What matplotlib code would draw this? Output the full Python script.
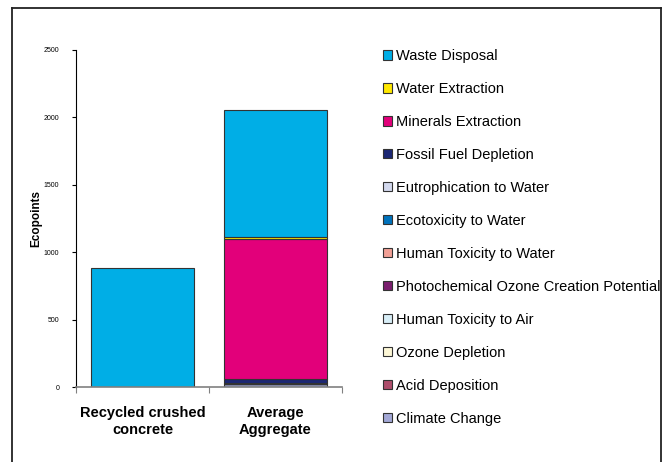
import matplotlib
matplotlib.use("Agg")
import matplotlib.pyplot as plt
from matplotlib.patches import Rectangle, Patch
from matplotlib.lines import Line2D

plt.rcParams['font.family'] = ['Liberation Sans', 'DejaVu Sans']

categories = ["Recycled crushed\nconcrete", "Average\nAggregate"]

# impact categories, stacked from the bottom up
impacts = [
    "Climate Change",
    "Acid Deposition",
    "Ozone Depletion",
    "Human Toxicity to Air",
    "Photochemical Ozone Creation Potential",
    "Human Toxicity to Water",
    "Ecotoxicity to Water",
    "Eutrophication to Water",
    "Fossil Fuel Depletion",
    "Minerals Extraction",
    "Water Extraction",
    "Waste Disposal",
]

recycled = [1, 0, 0, 0, 0, 0, 0, 0, 2, 0, 0, 880]
average = [20, 2, 0, 2, 1, 1, 1, 1, 28, 1045, 10, 945]

colors = [
    "#A3A8D6",  # Climate Change
    "#AE4E6C",  # Acid Deposition
    "#FDF7D6",  # Ozone Depletion
    "#D8EEF7",  # Human Toxicity to Air
    "#7A1E6E",  # Photochemical Ozone Creation Potential
    "#F2A096",  # Human Toxicity to Water
    "#0072BC",  # Ecotoxicity to Water
    "#D3D9EE",  # Eutrophication to Water
    "#1C2774",  # Fossil Fuel Depletion
    "#E2007A",  # Minerals Extraction
    "#FFE800",  # Water Extraction
    "#00AEE6",  # Waste Disposal
]

yticks = [0, 500, 1000, 1500, 2000, 2500]

fig = plt.figure(figsize=(6.72, 4.62), dpi=100)
ax = fig.add_axes([76 / 672, 75 / 462, 266 / 672, 337 / 462])

x = [0, 1]
bottoms = [0, 0]
for name, r, a, c in zip(impacts, recycled, average, colors):
    vals = [r, a]
    ax.bar(x, vals, width=0.77, bottom=bottoms, color=c,
           edgecolor="#333333", linewidth=0.8, label=name)
    bottoms = [b + v for b, v in zip(bottoms, vals)]

ax.set_xlim(-0.5, 1.5)
ax.set_ylim(0, 2500)
ax.set_yticks(yticks)
ax.set_yticklabels([str(t) for t in yticks], fontsize=5)
ax.tick_params(axis='y', direction='out', length=3, width=0.8, pad=9)

ax.set_xticks(x)
ax.set_xticklabels(categories, fontsize=10.5, fontweight='bold')
ax.tick_params(axis='x', which='major', length=0, pad=14)
ax.set_xticks([-0.5, 0.5, 1.5], minor=True)
ax.tick_params(axis='x', which='minor', direction='out', length=4,
               width=0.8, color="#808080")

ax.set_ylabel("Ecopoints", fontsize=8.5, fontweight='bold')
ax.yaxis.set_label_coords(-34 / 266, 0.5)

for s in ("top", "right"):
    ax.spines[s].set_visible(False)
ax.spines["left"].set_color("black")
ax.spines["left"].set_linewidth(0.8)
ax.spines["bottom"].set_color("#808080")
ax.spines["bottom"].set_linewidth(1.2)

handles = [Patch(facecolor=c, edgecolor="#333333", linewidth=0.8)
           for c in colors][::-1]
labels = impacts[::-1]
leg = ax.legend(handles, labels, loc="upper left",
                bbox_to_anchor=(383 / 672, 1 - 49 / 462),
                bbox_transform=fig.transFigure, frameon=False,
                fontsize=10.5, handlelength=0.62, handleheight=0.62,
                handletextpad=0.28, labelspacing=1.30, borderpad=0,
                borderaxespad=0)

# chart-area frame; legend text past the right edge is hidden
fig.add_artist(Rectangle((661.5 / 672, 0), 11 / 672, 1, transform=fig.transFigure,
                         facecolor="white", edgecolor="none", zorder=20))
frame_kw = dict(transform=fig.transFigure, color="#222222", linewidth=1.3, zorder=21)
fig.add_artist(Line2D([12 / 672, 12 / 672], [0, 1 - 8 / 462], **frame_kw))
fig.add_artist(Line2D([661 / 672, 661 / 672], [0, 1 - 8 / 462], **frame_kw))
fig.add_artist(Line2D([12 / 672, 661 / 672], [1 - 8 / 462, 1 - 8 / 462], **frame_kw))

fig.savefig("out.png", dpi=100)
